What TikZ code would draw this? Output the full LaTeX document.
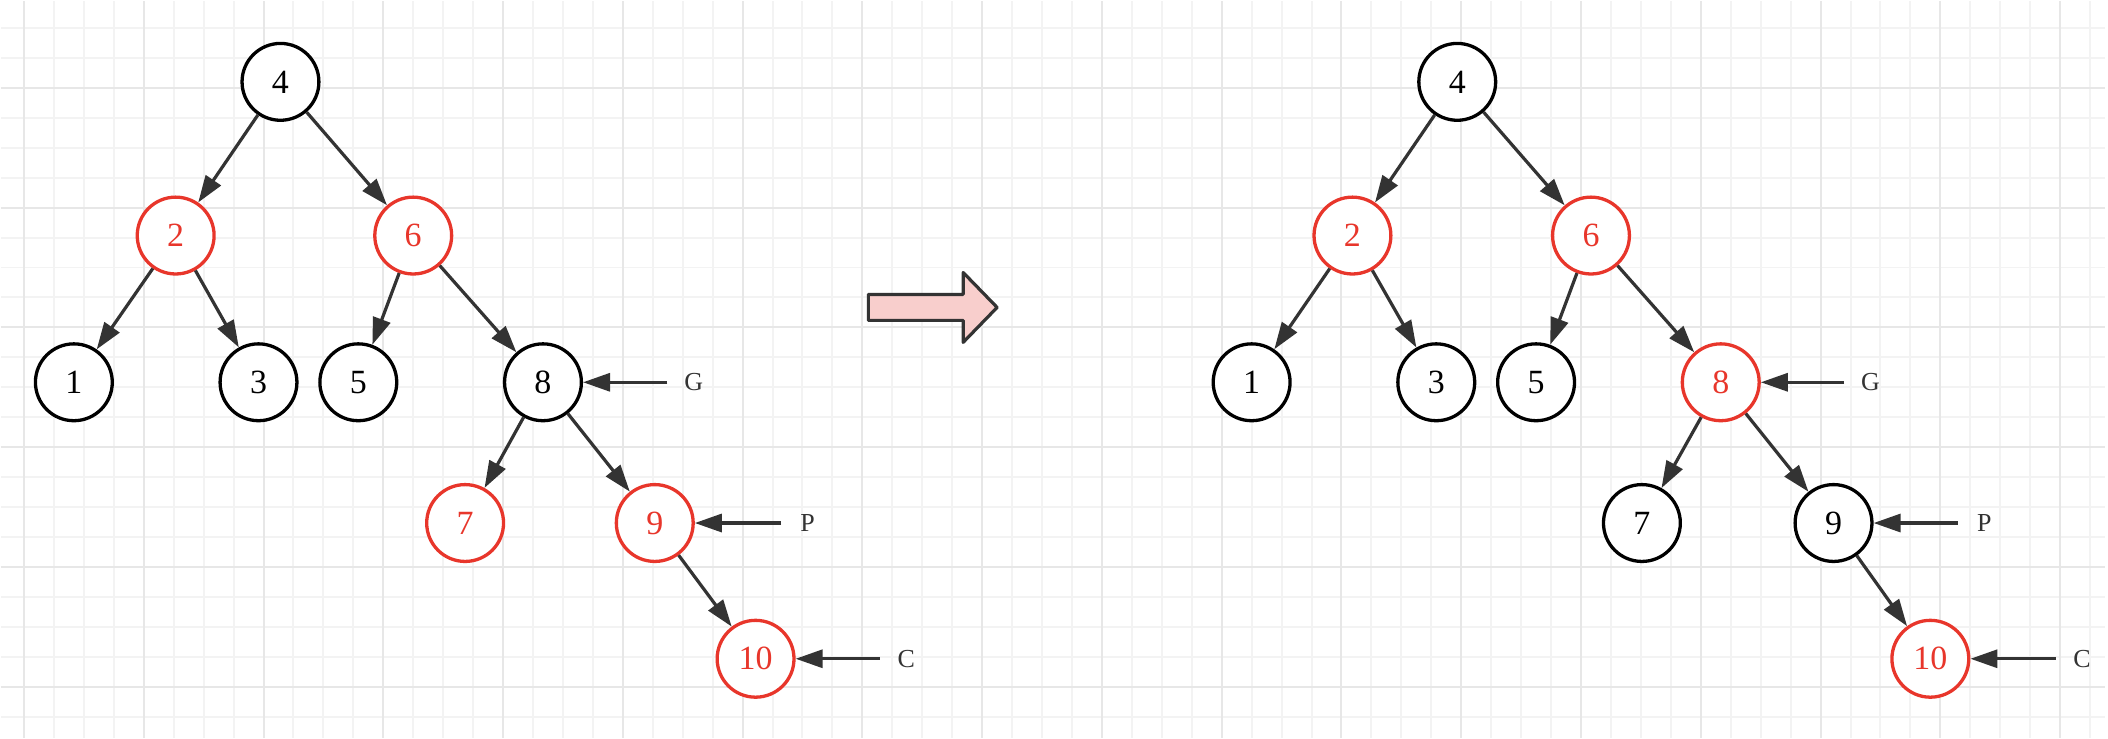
\documentclass[tikz,border=0pt]{standalone}
\usepackage{fontspec}
\setmainfont{Liberation Serif}
\usepackage{tikz}
\usetikzlibrary{arrows.meta}
\definecolor{RBRed}{HTML}{E8362B}
\definecolor{RBEdge}{HTML}{333333}
\definecolor{RBPink}{HTML}{F8CECC}
\definecolor{RBGridMinor}{HTML}{F3F3F3}
\definecolor{RBGridMajor}{HTML}{E7E7E7}

\begin{document}
\begin{tikzpicture}[
    x=0.5pt,y=-0.5pt,
    rbkey/.style={circle, draw=black, line width=1.65pt, minimum size=38.5pt,
      inner sep=0pt, fill=white, font=\fontsize{17}{17}\selectfont},
    rbblack/.style={rbkey},
    rbred/.style={rbkey, draw=RBRed, text=RBRed},
    link/.style={draw=RBEdge, line width=1.6pt,
      -{Triangle[length=13.5pt,width=9pt]}},
    ptr/.style={text=RBEdge, inner sep=0pt, minimum width=26pt,
      font=\fontsize{13}{13}\selectfont},
    bigarrow/.style={draw=RBEdge, fill=RBPink, line width=1.6pt,
      line join=round}
  ]
    % page and grid
    \fill[white] (0,0) rectangle (2108,738);
    \foreach \gx in {23,53,...,2108}
      \draw[RBGridMinor, line width=1pt] (\gx,0) -- (\gx,738);
    \foreach \gy in {27,57,...,738}
      \draw[RBGridMinor, line width=1pt] (0,\gy) -- (2108,\gy);
    \foreach \gx in {23,143,...,2108}
      \draw[RBGridMajor, line width=1pt] (\gx,0) -- (\gx,738);
    \foreach \gy in {87,207,...,738}
      \draw[RBGridMajor, line width=1pt] (0,\gy) -- (2108,\gy);

    % before
    \node[rbblack] (L4) at (280,81) {4};
    \node[rbred]   (L2) at (175,235) {2};
    \node[rbred]   (L6) at (413,235) {6};
    \node[rbblack] (L1) at (73,382) {1};
    \node[rbblack] (L3) at (258,382) {3};
    \node[rbblack] (L5) at (358,382) {5};
    \node[rbblack] (L8) at (543,382) {8};
    \node[rbred]   (L7) at (465,523) {7};
    \node[rbred]   (L9) at (655,523) {9};
    \node[rbred]   (L10) at (756,659) {10};

    \node[ptr] (LG) at (694,382) {G};
    \node[ptr] (LP) at (808,523) {P};
    \node[ptr] (LC) at (907,659) {C};

    % after
    \node[rbblack] (R4) at (1459,81) {4};
    \node[rbred]   (R2) at (1354,235) {2};
    \node[rbred]   (R6) at (1593,235) {6};
    \node[rbblack] (R1) at (1253,382) {1};
    \node[rbblack] (R3) at (1438,382) {3};
    \node[rbblack] (R5) at (1538,382) {5};
    \node[rbred]   (R8) at (1723,382) {8};
    \node[rbblack] (R7) at (1644,523) {7};
    \node[rbblack] (R9) at (1836,523) {9};
    \node[rbred]   (R10) at (1933,659) {10};

    \node[ptr] (RG) at (1873,382) {G};
    \node[ptr] (RP) at (1987,523) {P};
    \node[ptr] (RC) at (2085,659) {C};

    \foreach \s in {L,R} {
      \foreach \a/\b in {4/2,4/6,2/1,2/3,6/5,6/8,8/7,8/9,9/10}
        \draw[link] (\s\a) -- (\s\b);
      \draw[link] (\s G.west) -- (\s8);
      \draw[link] (\s P.west) -- (\s9);
      \draw[link] (\s C.west) -- (\s10);
    }

    % transformation arrow
    \draw[bigarrow] (869,294) -- (964,294) -- (964,272) -- (998,307)
      -- (964,342) -- (964,320) -- (869,320) -- cycle;
  \end{tikzpicture}
\end{document}
